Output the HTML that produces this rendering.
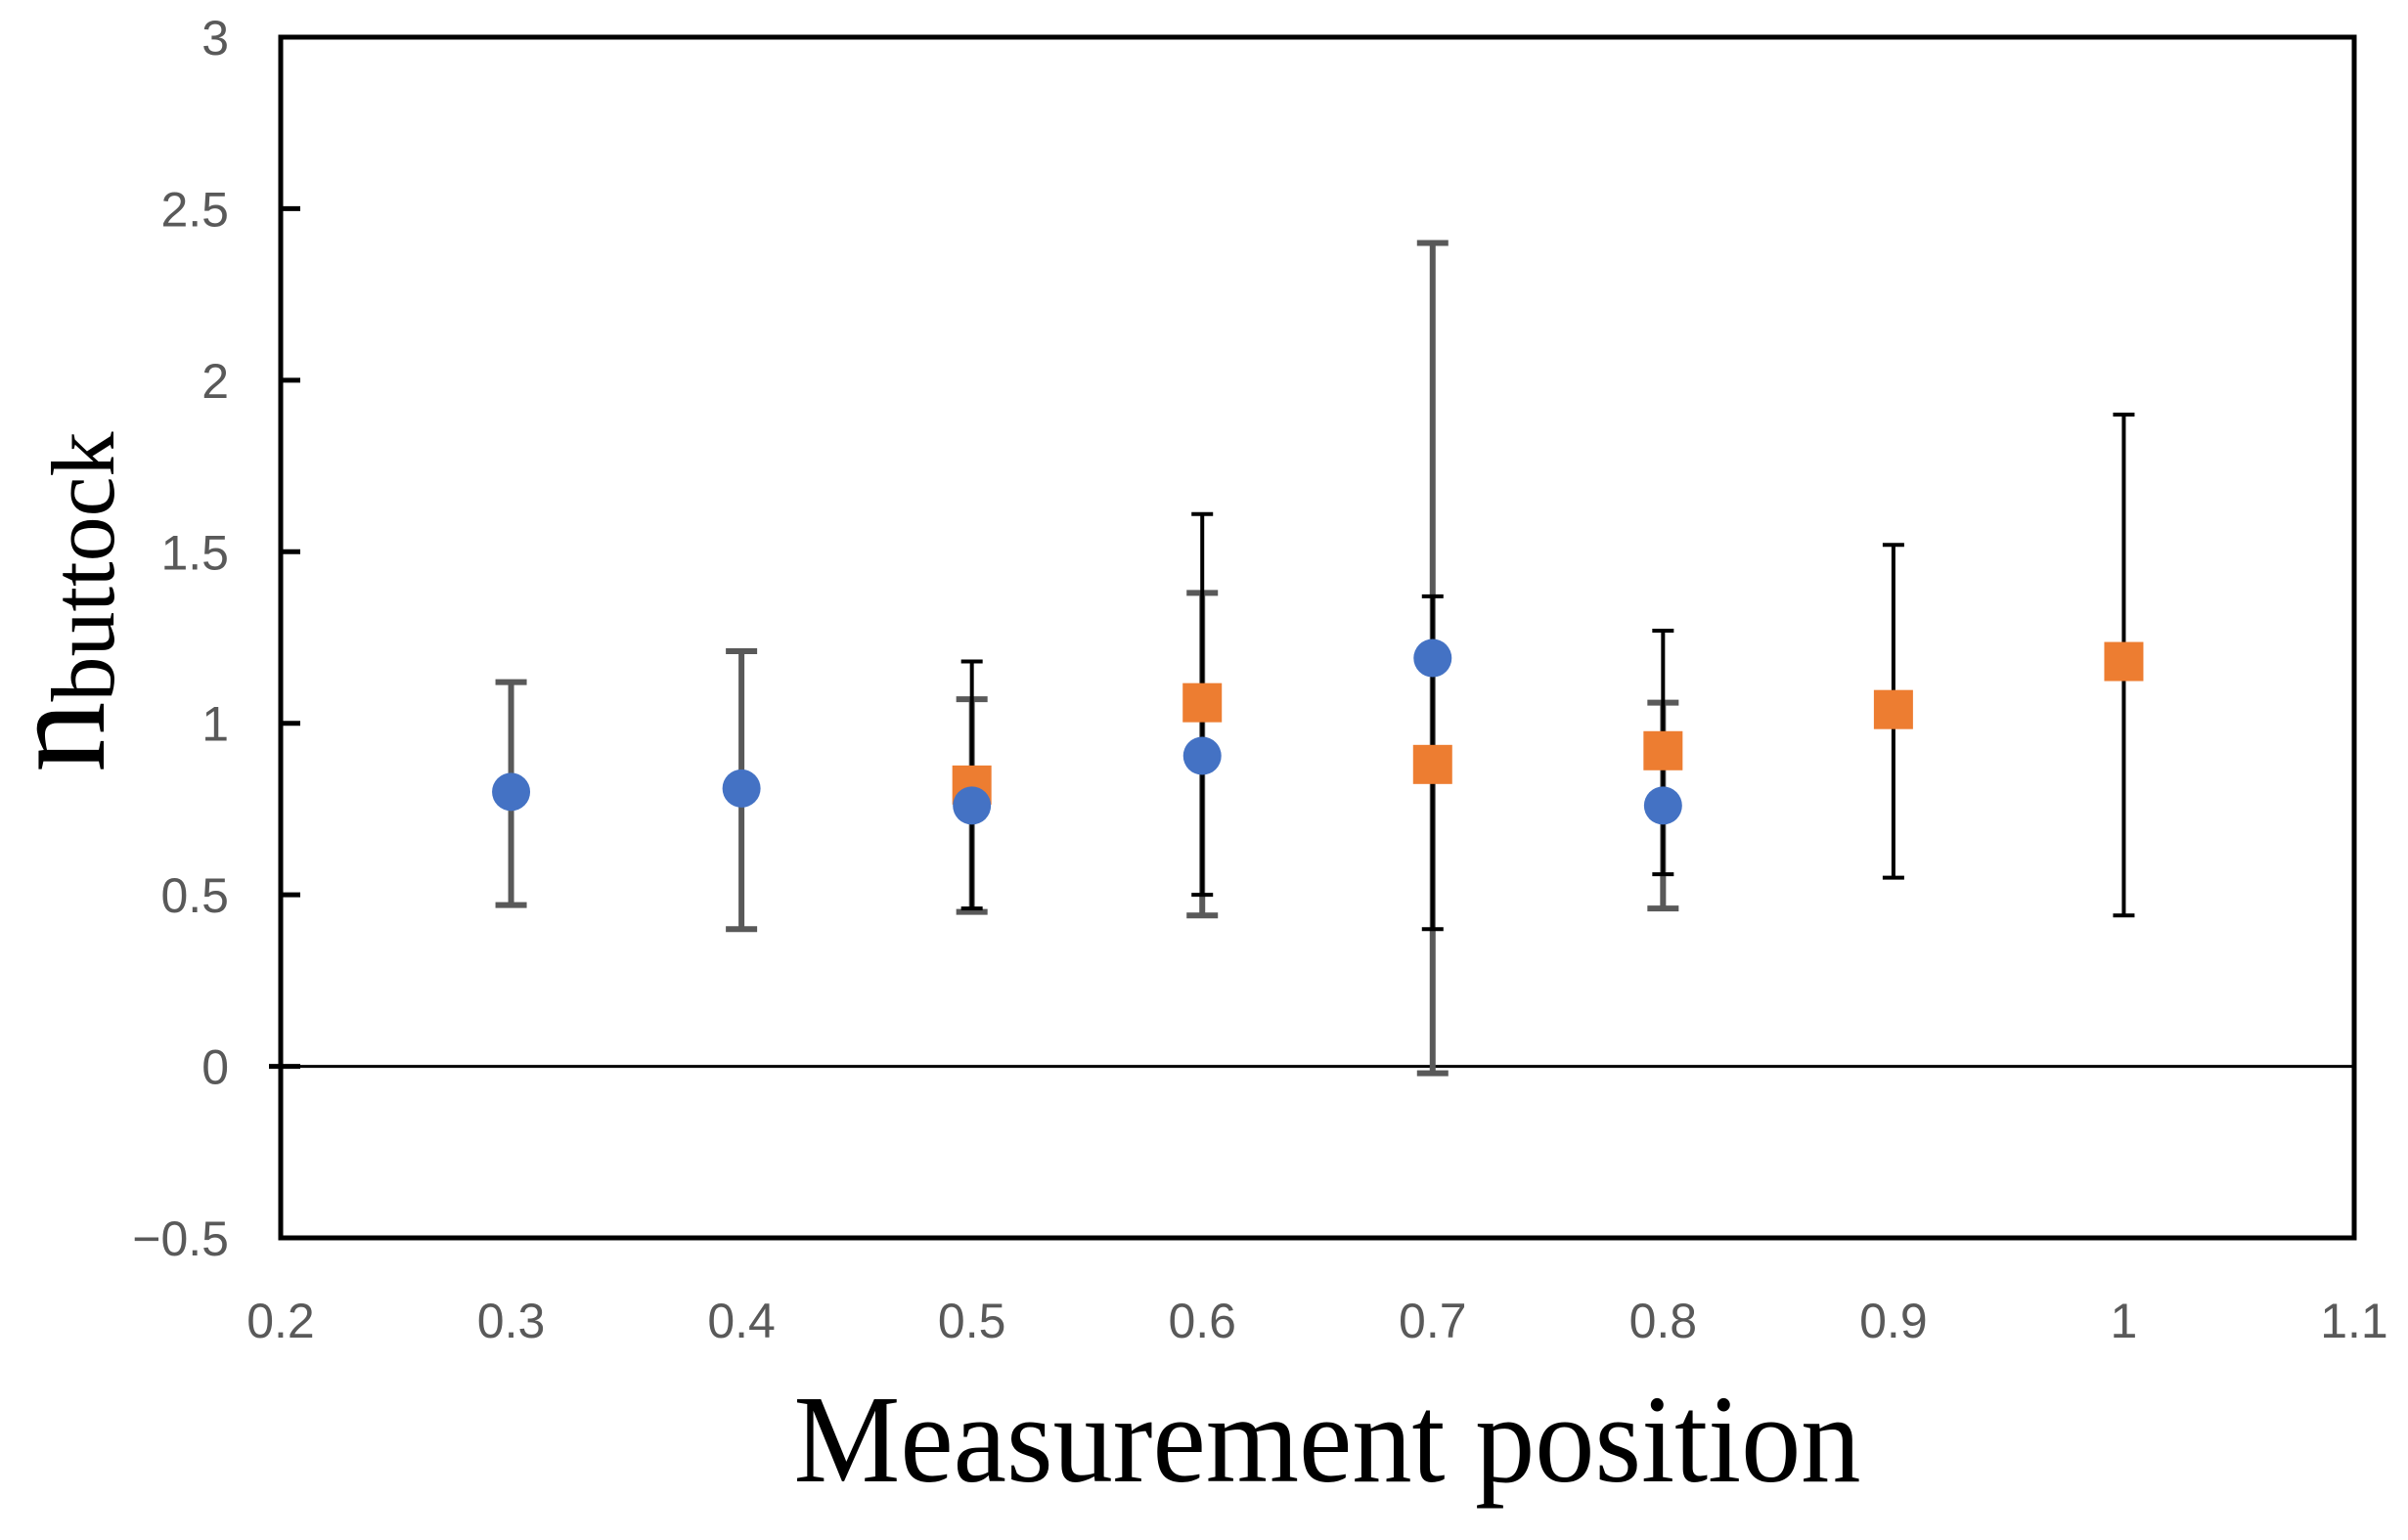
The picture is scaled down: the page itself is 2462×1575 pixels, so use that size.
<!DOCTYPE html>
<html><head><meta charset="utf-8">
<style>
html,body{margin:0;padding:0;background:#fff;}
svg{display:block;}
</style></head>
<body>
<svg id="chart" width="2462" height="1575" viewBox="0 0 2462 1575" xmlns="http://www.w3.org/2000/svg">
<rect x="0" y="0" width="2462" height="1575" fill="#fff"/>
<g id="grid"></g>
<g id="marks"></g>
<text x="1357" y="1515" text-anchor="middle" font-family="Liberation Serif, serif" font-size="128" textLength="1091" lengthAdjust="spacingAndGlyphs" fill="#000">Measurement position</text>
<text transform="translate(106,790) rotate(-90)" font-family="Liberation Serif, serif" fill="#000"><tspan font-size="145">n</tspan><tspan font-size="92" dy="10">buttock</tspan></text>
</svg>
<script>
const xTicks=[0.2,0.3,0.4,0.5,0.6,0.7,0.8,0.9,1.0,1.1];
const xTickLabels=["0.2","0.3","0.4","0.5","0.6","0.7","0.8","0.9","1","1.1"];
const yTicks=[3,2.5,2,1.5,1,0.5,0,-0.5];
const yTickLabels=["3","2.5","2","1.5","1","0.5","0","\u22120.5"];
const blueX=[0.3,0.4,0.5,0.6,0.7,0.8];
const blueY=[0.80,0.81,0.76,0.905,1.19,0.76];
const blueLow=[0.47,0.40,0.45,0.44,-0.02,0.46];
const blueHigh=[1.12,1.21,1.07,1.38,2.40,1.06];
const orangeX=[0.5,0.6,0.7,0.8,0.9,1.0];
const orangeY=[0.82,1.06,0.88,0.92,1.04,1.18];
const orangeLow=[0.46,0.50,0.40,0.56,0.55,0.44];
const orangeHigh=[1.18,1.61,1.37,1.27,1.52,1.90];

const L=287,R=2407,T=38,B=1266;
const xMin=0.2,xMax=1.1,yMin=-0.5,yMax=3;
function sx(v){return L+(v-xMin)/(xMax-xMin)*(R-L);}
function sy(v){return B-(v-yMin)/(yMax-yMin)*(B-T);}
const NS="http://www.w3.org/2000/svg";
function mk(tag,attrs,parent){const e=document.createElementNS(NS,tag);for(const k in attrs)e.setAttribute(k,attrs[k]);parent.appendChild(e);return e;}
const g=document.getElementById('grid');
const m=document.getElementById('marks');

yTicks.forEach((v,i)=>{
  const y=sy(v);
  if(v>yMin&&v<yMax){
    const t=mk('line',{x1:(v===0?L-12:L),x2:L+20,y1:y,y2:y,stroke:'#000','stroke-width':5},g);
    
    
  }
  const lb=mk('text',{x:234,y:y+18,'text-anchor':'end','font-family':'Liberation Sans, sans-serif','font-size':50,fill:'#595959'},g);
  lb.textContent=yTickLabels[i];
  
  
});
xTicks.forEach((v,i)=>{
  const lb=mk('text',{x:sx(v),y:1368,'text-anchor':'middle','font-family':'Liberation Sans, sans-serif','font-size':50,fill:'#595959'},g);
  lb.textContent=xTickLabels[i];
  
  
});
const z=mk('line',{x1:L,x2:R,y1:sy(0),y2:sy(0),stroke:'#000','stroke-width':3},g);


const fr=mk('rect',{x:L,y:T,width:R-L,height:B-T,fill:'none',stroke:'#000','stroke-width':5},g);



function errBars(xs,lo,hi,color,w,cw,name){
  xs.forEach((v,i)=>{
    const x=sx(v),y1=sy(lo[i]),y2=sy(hi[i]);
    const grp=mk('g',{},m);
    
    
    mk('line',{x1:x,x2:x,y1:y1,y2:y2,stroke:color,'stroke-width':w},grp);
    mk('line',{x1:x-cw,x2:x+cw,y1:y1,y2:y1,stroke:color,'stroke-width':w},grp);
    mk('line',{x1:x-cw,x2:x+cw,y1:y2,y2:y2,stroke:color,'stroke-width':w},grp);
  });
}
errBars(blueX,blueLow,blueHigh,'#595959',6,16,'blue-error-bar');
errBars(orangeX,orangeLow,orangeHigh,'#000',4,11,'orange-error-bar');
orangeX.forEach((v,i)=>{
  const s=mk('rect',{x:sx(v)-20,y:sy(orangeY[i])-20,width:40,height:40,fill:'#ED7D31'},m);
  
  
});
blueX.forEach((v,i)=>{
  const c=mk('circle',{cx:sx(v),cy:sy(blueY[i]),r:19.5,fill:'#4472C4'},m);
  
  
});
</script>
</body></html>
